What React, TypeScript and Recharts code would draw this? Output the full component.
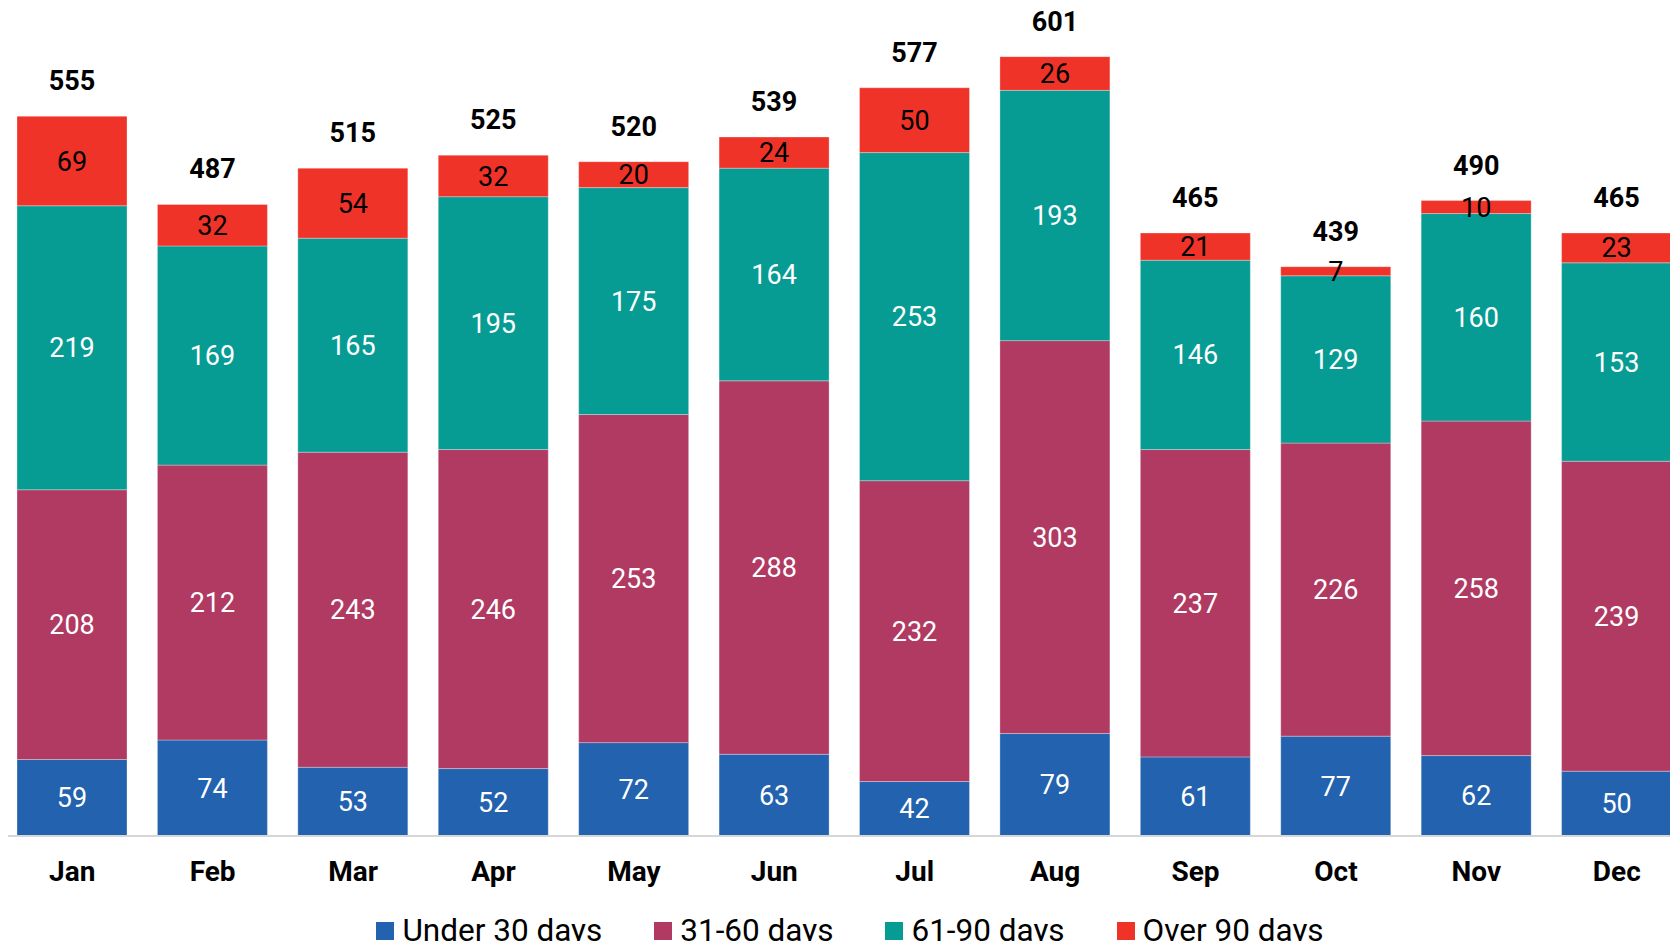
import { BarChart, Bar, XAxis, YAxis, Legend, LabelList } from 'recharts';

const months = ['Jan', 'Feb', 'Mar', 'Apr', 'May', 'Jun', 'Jul', 'Aug', 'Sep', 'Oct', 'Nov', 'Dec'];
const under30 = [59, 74, 53, 52, 72, 63, 42, 79, 61, 77, 62, 50];
const days31to60 = [208, 212, 243, 246, 253, 288, 232, 303, 237, 226, 258, 239];
const days61to90 = [219, 169, 165, 195, 175, 164, 253, 193, 146, 129, 160, 153];
const over90 = [69, 32, 54, 32, 20, 24, 50, 26, 21, 7, 10, 23];

const series = [
  { key: 'under30', name: 'Under 30 days', color: '#2262AE', labelColor: '#ffffff' },
  { key: 'd31_60', name: '31-60 days', color: '#B03A62', labelColor: '#ffffff' },
  { key: 'd61_90', name: '61-90 days', color: '#069C94', labelColor: '#ffffff' },
  { key: 'over90', name: 'Over 90 days', color: '#EF3328', labelColor: '#000000' },
];

const data = months.map((m, i) => ({
  month: m,
  under30: under30[i],
  d31_60: days31to60[i],
  d61_90: days61to90[i],
  over90: over90[i],
  total: under30[i] + days31to60[i] + days61to90[i] + over90[i],
}));

const FONT = 'Roboto, "Noto Sans", sans-serif';

function MonthTick({ x, y, payload }: any) {
  return (
    <text x={x} y={y} dy={37} textAnchor="middle" fontFamily={FONT} fontWeight={700} fontSize={28} fill="#000">
      {payload.value}
    </text>
  );
}

function LegendContent() {
  return (
    <div style={{ display: 'flex', justifyContent: 'center', fontFamily: FONT, fontSize: 31.5, lineHeight: '32px', color: '#000' }}>
      {series.map((s, i) => (
        <div key={s.key} style={{ display: 'flex', alignItems: 'center', marginLeft: i === 0 ? 0 : 52 }}>
          <span style={{ display: 'inline-block', width: 18, height: 18, background: s.color, marginRight: 8 }} />
          <span>{s.name}</span>
        </div>
      ))}
    </div>
  );
}

export default function App() {
  return (
    <div style={{ margin: -8, width: 1678, height: 949, overflow: 'hidden', position: 'relative', background: '#fff' }}>
      <BarChart
        width={1687}
        height={949}
        data={data}
        margin={{ top: 32, right: 0, left: 2, bottom: 0 }}
        barSize={110}
      >
        <XAxis
          dataKey="month"
          height={113}
          tickLine={false}
          axisLine={{ stroke: '#d6d6d6', strokeWidth: 2 }}
          tick={<MonthTick />}
          interval={0}
        />
        <YAxis hide domain={[0, 620]} />
        <Legend
          verticalAlign="middle"
          align="center"
          layout="horizontal"
          content={<LegendContent />}
          wrapperStyle={{ top: 915, left: 0, width: 1700 }}
        />
        {series.map((s) => (
          <Bar
            key={s.key}
            dataKey={s.key}
            name={s.name}
            stackId="a"
            fill={s.color}
            stroke="#ffffff"
            strokeOpacity={0.3}
            strokeWidth={1}
            isAnimationActive={false}
          >
            <LabelList
              dataKey={s.key}
              position="center"
              fill={s.labelColor}
              fontSize={27}
              fontFamily={FONT}
            />
            {s.key === 'over90' && (
              <LabelList
                dataKey="total"
                position="top"
                offset={26}
                fill="#000"
                fontSize={27}
                fontWeight={700}
                fontFamily={FONT}
              />
            )}
          </Bar>
        ))}
      </BarChart>
    </div>
  );
}
